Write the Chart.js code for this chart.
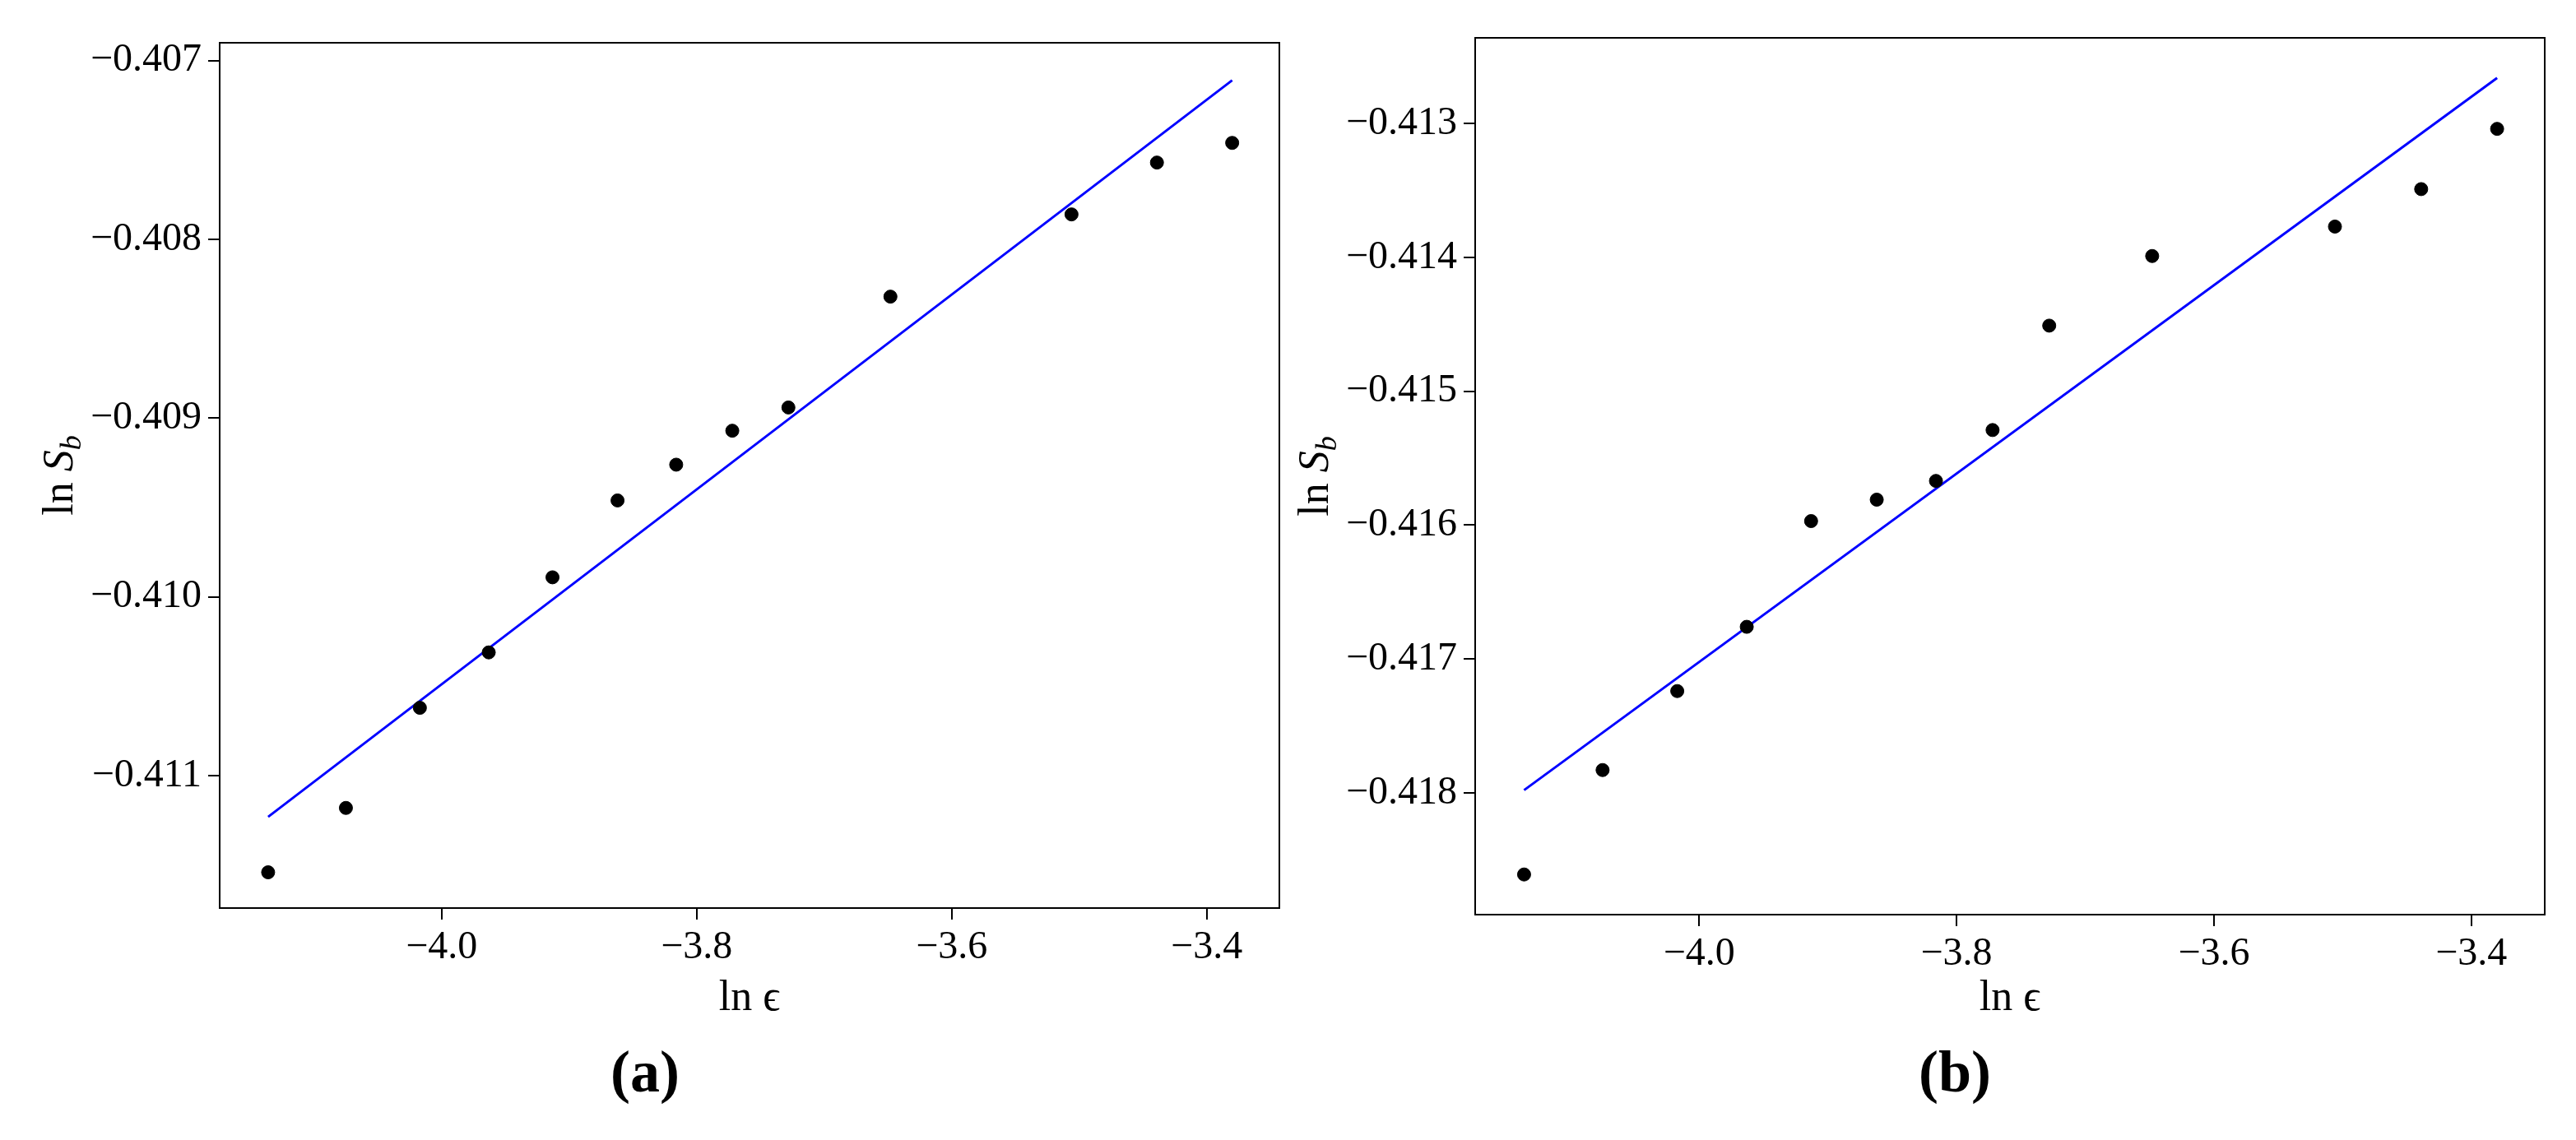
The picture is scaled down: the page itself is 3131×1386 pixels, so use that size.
<!DOCTYPE html>
<html><head><meta charset="utf-8">
<script src="https://cdn.jsdelivr.net/npm/chart.js@4"></script>
<style>
body{margin:0;background:#fff;width:3131px;height:1386px;position:relative;overflow:hidden}
.w{position:absolute;top:0;height:1250px}
.cap{position:absolute;top:1262px;font:bold 72px "Liberation Serif",serif}
</style></head><body>
<div class="w" id="wa" style="left:0;width:1580px"><canvas id="ca"></canvas></div>
<div class="w" id="wb" style="left:1560px;width:1571px"><canvas id="cb"></canvas></div>
<div class="cap" style="left:742px">(a)</div>
<div class="cap" style="left:2332px">(b)</div>
<script>
const lnEps = [-4.136,-4.075,-4.017,-3.963,-3.913,-3.862,-3.816,-3.772,-3.728,-3.648,-3.506,-3.439,-3.380];
const lnSbA = [-0.41154,-0.41118,-0.41062,-0.41031,-0.40989,-0.40946,-0.40926,-0.40907,-0.40894,-0.40832,-0.40786,-0.40757,-0.40746];
const lnSbB = [-0.41861,-0.41783,-0.41724,-0.41676,-0.41597,-0.41581,-0.41567,-0.41529,-0.41451,-0.41399,-0.41377,-0.41349,-0.41304];
const fitX = [-4.136,-3.380];
const fitA = [-0.41123,-0.40711];
const fitB = [-0.41798,-0.41266];
const xTicks = [-4.0,-3.8,-3.6,-3.4];
const yTicksA = [-0.411,-0.410,-0.409,-0.408,-0.407];
const yTicksB = [-0.418,-0.417,-0.416,-0.415,-0.414,-0.413];

const FONT = "'Liberation Serif', serif";
const frame = {id:'frame',afterDatasetsDraw(c){const a=c.chartArea,x=c.ctx;x.save();x.strokeStyle='#000';x.lineWidth=2;x.strokeRect(a.left,a.top,a.right-a.left,a.bottom-a.top);
  // y title: ln S_b
  const cx=c.options.plugins.ytitleX, cy=(a.top+a.bottom)/2;
  x.translate(cx,cy);x.rotate(-Math.PI/2);x.fillStyle='#000';x.textBaseline='alphabetic';
  x.font='52px '+FONT;const w1=x.measureText('ln ').width;
  x.font='italic 52px '+FONT;const w2=x.measureText('S').width;
  x.font='italic 36px '+FONT;const w3=x.measureText('b').width;
  let s=-(w1+w2+w3)/2;
  x.font='52px '+FONT;x.fillText('ln ',s,0);s+=w1;
  x.font='italic 52px '+FONT;x.fillText('S',s,0);s+=w2;
  x.font='italic 36px '+FONT;x.fillText('b',s,10);
  x.restore();}};
function make(id, ys, fit, yt, cfg){
  new Chart(document.getElementById(id),{
    type:'scatter',
    data:{datasets:[
      {data:lnEps.map((x,i)=>({x,y:ys[i]})),backgroundColor:'#000',borderColor:'#000',pointRadius:8,order:1},
      {type:'line',data:fitX.map((x,i)=>({x,y:fit[i]})),borderColor:'#0000ff',borderWidth:3,pointRadius:0,fill:false,order:2}
    ]},
    options:{responsive:true,maintainAspectRatio:false,animation:false,
      layout:{padding:{top:cfg.top,right:cfg.right,left:0,bottom:0}},
      plugins:{legend:{display:false},tooltip:{enabled:false},ytitleX:cfg.tx},
      scales:{
        x:{type:'linear',min:-4.174,max:cfg.xmax,
          afterBuildTicks:s=>{s.ticks=xTicks.map(v=>({value:v}));},
          afterFit:s=>{s.height=cfg.xh;},
          grid:{drawOnChartArea:false,drawTicks:true,tickLength:14,color:'#000',lineWidth:2},
          border:{display:false},
          ticks:{color:'#000',font:{family:FONT,size:48},padding:6,maxRotation:0,callback:v=>'\u2212'+Math.abs(v).toFixed(1)},
          title:{display:true,text:'ln \u03f5',color:'#000',font:{family:FONT,size:52},padding:{top:0}}
        },
        y:{type:'linear',min:cfg.ymin,max:cfg.ymax,
          afterBuildTicks:s=>{s.ticks=yt.map(v=>({value:v}));},
          afterFit:s=>{s.width=cfg.yw;},
          grid:{drawOnChartArea:false,drawTicks:true,tickLength:14,color:'#000',lineWidth:2},
          border:{display:false},
          ticks:{color:'#000',font:{family:FONT,size:48},padding:8,callback:v=>'\u2212'+Math.abs(v).toFixed(3)},
          title:{display:false}
        }
      }
    },
    plugins:[frame]
  });
}
make('ca',lnSbA,fitA,yTicksA,{top:52,right:25,xh:146,yw:267,tx:88,xmax:-3.343,ymin:-0.41174,ymax:-0.4069});
make('cb',lnSbB,fitB,yTicksB,{top:46,right:38,xh:138,yw:233,tx:54,xmax:-3.343,ymin:-0.41891,ymax:-0.41236});
</script></body></html>
